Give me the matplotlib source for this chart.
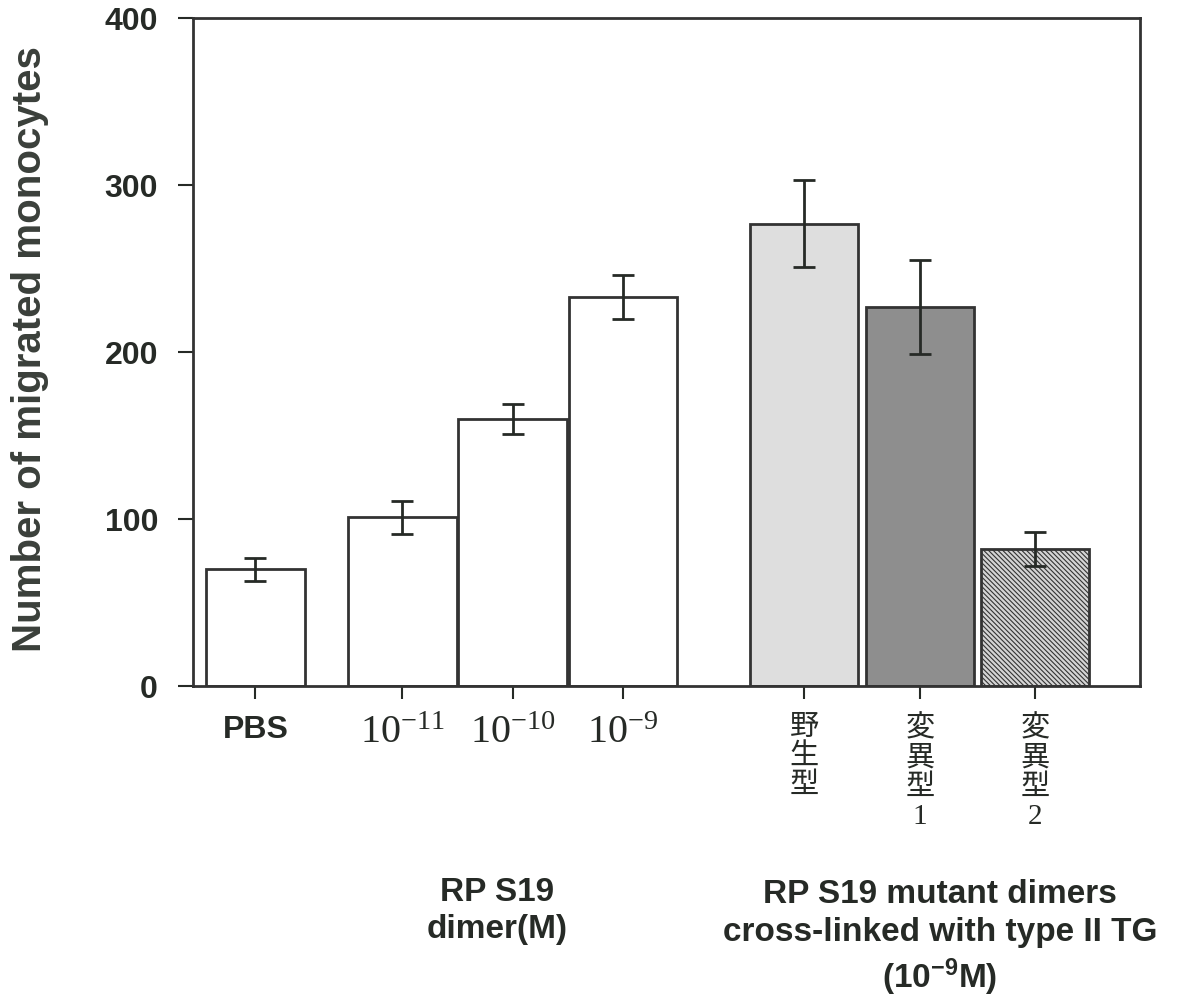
import matplotlib
matplotlib.use("Agg")
import matplotlib.pyplot as plt

# values
groups = ["PBS", "1e-11", "1e-10", "1e-9", "wt", "mut1", "mut2"]
tick_labels = ["PBS",
               r"$\mathregular{10^{-11}}$",
               r"$\mathregular{10^{-10}}$",
               r"$\mathregular{10^{-9}}$",
               "野\n生\n型",
               "変\n異\n型\n1",
               "変\n異\n型\n2"]
means = [70, 101, 160, 233, 277, 227, 82]
errors = [7, 10, 9, 13, 26, 28, 10]
y_ticks = [0, 100, 200, 300, 400]

# layout (bar-width units)
pos = [0.58, 1.94, 2.96, 3.98, 5.66, 6.73, 7.80]
widths = [0.92, 1.01, 1.01, 1.0, 1.0, 1.0, 1.0]
faces = ["white", "white", "white", "white", "#dedede", "#8e8e8e", "#d4d4d4"]
hatches = [None, None, None, None, None, None, "\\\\\\\\\\\\\\"]

ink = "#262a26"
plt.rcParams["hatch.linewidth"] = 0.8

fig = plt.figure(figsize=(11.83, 10.06), dpi=100)
ax = fig.add_axes([0.163, 0.318, 0.8007, 0.664])

for i in range(len(groups)):
    ax.bar(pos[i], means[i], width=widths[i], color=faces[i],
           edgecolor="#333333", linewidth=2, hatch=hatches[i], zorder=2)
ax.errorbar(pos, means, yerr=errors, fmt="none", ecolor=ink,
            elinewidth=2, capsize=8, capthick=2, zorder=3)

ax.set_xlim(0, 8.77)
ax.set_ylim(0, 400)
ax.set_yticks(y_ticks)
ax.set_yticklabels([str(v) for v in y_ticks], fontsize=23,
                   fontweight="bold", family="Liberation Sans", color=ink)
ax.set_xticks(pos)
ax.set_xticklabels(tick_labels)
ax.tick_params(axis="y", length=11, width=1.5, pad=14, colors=ink)
ax.tick_params(axis="x", length=9, width=1.5, pad=12, colors=ink)

labs = ax.get_xticklabels()
labs[0].set_fontproperties({"family": "Liberation Sans", "weight": "bold", "size": 23})
for lab in labs[1:4]:
    lab.set_fontproperties({"family": "Liberation Serif", "size": 29})
for lab in labs[4:]:
    lab.set_fontproperties({"family": ["Liberation Serif", "Noto Sans CJK JP"], "size": 21})
    lab.set_linespacing(1.15)

for sp in ax.spines.values():
    sp.set_linewidth(2)
    sp.set_color("#333333")

ax.set_ylabel("Number of migrated monocytes", fontsize=29, fontweight="bold",
              family="Liberation Sans", color="#3a3f3a")
ax.yaxis.set_label_coords(-0.152, 0.505)

narrow = ["Liberation Sans Narrow", "Liberation Sans"]
fig.text(497 / 1183, 1 - 877 / 1006, "RP S19\ndimer(M)", ha="center", va="top",
         fontsize=24, fontweight="bold", family=narrow, color=ink, linespacing=1.25)
fig.text(940 / 1183, 1 - 879 / 1006,
         "RP S19 mutant dimers\ncross-linked with type II TG\n" + r"(10$\mathregular{^{-9}}$M)",
         ha="center", va="top", fontsize=24, fontweight="bold", family=narrow,
         color=ink, linespacing=1.28)

fig.savefig("out.png", dpi=100)
